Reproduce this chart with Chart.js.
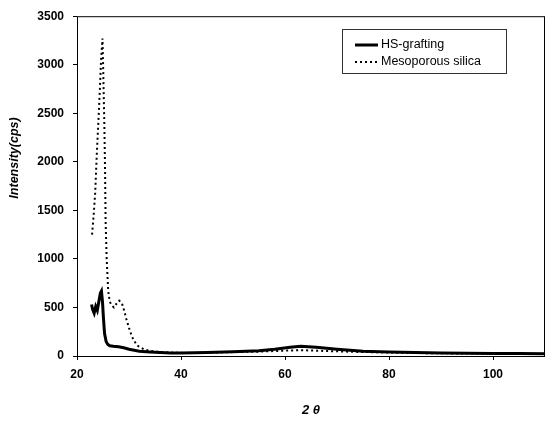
<!DOCTYPE html>
<html>
<head>
<meta charset="utf-8">
<script src="https://cdn.jsdelivr.net/npm/chart.js@4/dist/chart.umd.min.js"></script>
<style>
html,body{margin:0;padding:0;background:#fff;}
#wrap{width:548px;height:422px;}
</style>
</head>
<body>
<div id="wrap"><canvas id="c" width="548" height="422"></canvas></div>
<script>
// ---- data ----
const seriesNames = ["HS-grafting", "Mesoporous silica"];
const hsTheta = [22.8, 23.0, 23.3, 23.6, 23.9, 24.2, 24.5, 24.7, 24.9, 25.1, 25.3, 25.6, 25.9, 26.3, 27, 28, 29, 30, 31, 32, 34, 36, 38, 40, 45, 50, 55, 58, 61, 63, 66, 70, 75, 80, 85, 90, 95, 100, 105, 110];
const hsIntensity = [530, 480, 440, 510, 470, 560, 650, 670, 560, 380, 230, 150, 120, 105, 100, 95, 85, 70, 60, 50, 42, 36, 32, 30, 35, 45, 55, 70, 90, 100, 90, 70, 50, 42, 36, 32, 28, 26, 25, 24];
const silicaTheta = [22.9, 23.2, 23.5, 23.8, 24.1, 24.4, 24.6, 24.9, 25.05, 25.25, 25.4, 25.5, 25.7, 26.0, 26.3, 26.7, 27.1, 27.6, 28.1, 28.6, 29.0, 29.5, 30.0, 30.6, 31.5, 33, 35, 38, 42, 46, 50, 55, 60, 63, 66, 70, 74, 78, 82, 86, 90, 95, 100, 105, 110];
const silicaIntensity = [1250, 1450, 1680, 2070, 2400, 2750, 3020, 3270, 2920, 2400, 1900, 1390, 1010, 670, 560, 520, 500, 540, 570, 550, 480, 380, 290, 195, 110, 65, 45, 35, 30, 35, 40, 45, 55, 60, 55, 48, 42, 38, 34, 30, 28, 25, 24, 22, 20];
const xTicks = [20, 40, 60, 80, 100];
const yTicks = [0, 500, 1000, 1500, 2000, 2500, 3000, 3500];
const xTitle = "2 θ";
const yTitle = "Intensity(cps)";

const toPts = (xs, ys) => xs.map((x, i) => ({x: x, y: ys[i]}));

const framePlugin = {
  id: 'frame',
  afterDraw(chart) {
    const ctx = chart.ctx, a = chart.chartArea;
    ctx.save();
    ctx.strokeStyle = '#000';
    ctx.lineWidth = 1;
    ctx.strokeRect(a.left + 0.5, a.top + 0.5, a.right - a.left - 1, a.bottom - a.top);
    // y title
    ctx.fillStyle = '#000';
    ctx.font = 'italic bold 12.5px "Liberation Sans", Arial, sans-serif';
    ctx.textAlign = 'center';
    ctx.textBaseline = 'middle';
    ctx.translate(15, 158);
    ctx.rotate(-Math.PI / 2);
    ctx.fillText(yTitle, 0, 0);
    ctx.restore();
    // legend
    ctx.save();
    const lx = 342, ly = 29, lw = 164, lh = 44;
    ctx.strokeStyle = '#333';
    ctx.lineWidth = 1;
    ctx.strokeRect(lx + 0.5, ly + 0.5, lw, lh);
    const ds = chart.data.datasets;
    const rows = [45, 62];
    ds.forEach((d, i) => {
      ctx.beginPath();
      ctx.strokeStyle = '#000';
      ctx.lineWidth = d.borderWidth;
      ctx.setLineDash(d.borderDash || []);
      ctx.moveTo(355, rows[i]);
      ctx.lineTo(378, rows[i]);
      ctx.stroke();
      ctx.setLineDash([]);
      ctx.fillStyle = '#000';
      ctx.font = '12.5px "Liberation Sans", Arial, sans-serif';
      ctx.textAlign = 'left';
      ctx.textBaseline = 'middle';
      ctx.fillText(d.label, 381, rows[i]);
    });
    ctx.restore();
  }
};

new Chart(document.getElementById('c'), {
  type: 'line',
  data: {
    datasets: [
      {label: seriesNames[0], data: toPts(hsTheta, hsIntensity), borderColor: '#000', borderWidth: 3, pointRadius: 0, tension: 0, fill: false},
      {label: seriesNames[1], data: toPts(silicaTheta, silicaIntensity), borderColor: '#000', borderWidth: 2, borderDash: [2, 3], pointRadius: 0, tension: 0, fill: false}
    ]
  },
  options: {
    responsive: false,
    animation: false,
    devicePixelRatio: 1,
    layout: {padding: {left: 0, right: 3, top: 12, bottom: 0}},
    plugins: {legend: {display: false}, tooltip: {enabled: false}},
    scales: {
      x: {
        type: 'linear', min: 20, max: 110,
        afterBuildTicks: s => { s.ticks = xTicks.map(v => ({value: v})); },
        afterFit: s => { s.height = 66; },
        border: {display: false},
        grid: {drawOnChartArea: false, drawTicks: true, tickLength: 4, color: '#000'},
        ticks: {color: '#000', padding: 7, maxRotation: 0, callback: v => String(v), font: {family: '"Liberation Sans", Arial, sans-serif', size: 12, weight: 'bold'}},
        title: {display: true, text: xTitle, color: '#000', padding: {top: 0, bottom: 4}, font: {family: '"Liberation Sans", Arial, sans-serif', size: 13, weight: 'bold', style: 'italic'}}
      },
      y: {
        type: 'linear', min: 0, max: 3500,
        afterBuildTicks: s => { s.ticks = yTicks.map(v => ({value: v})); },
        afterFit: s => { s.width = 77; },
        border: {display: false},
        grid: {drawOnChartArea: false, drawTicks: true, tickLength: 4, color: '#000'},
        ticks: {color: '#000', padding: 9, callback: v => String(v), font: {family: '"Liberation Sans", Arial, sans-serif', size: 12, weight: 'bold'}}
      }
    }
  },
  plugins: [framePlugin]
});
</script>
</body>
</html>
